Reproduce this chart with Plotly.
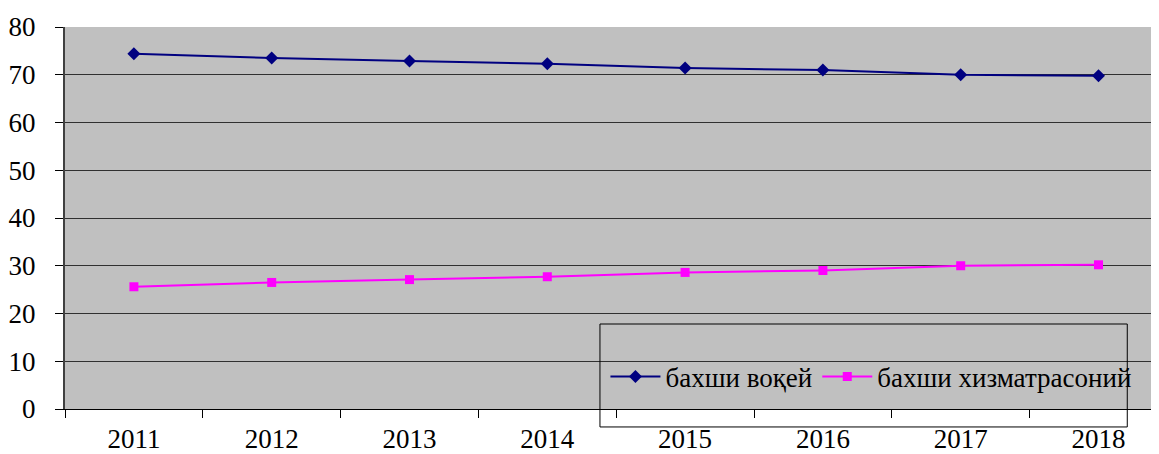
import plotly.graph_objects as go

years = ["2011", "2012", "2013", "2014", "2015", "2016", "2017", "2018"]
real_sector = [74.4, 73.5, 72.9, 72.3, 71.4, 71.0, 70.0, 69.8]
service_sector = [25.6, 26.5, 27.1, 27.7, 28.6, 29.0, 30.0, 30.2]
name_real = "бахши воқей"
name_service = "бахши хизматрасоний"
y_ticks = [0, 10, 20, 30, 40, 50, 60, 70, 80]

FONT = "'Times New Roman', 'Liberation Serif', serif"

fig = go.Figure()
fig.add_trace(go.Scatter(
    x=years, y=real_sector, name=name_real, mode="lines+markers",
    line=dict(color="#000080", width=2),
    marker=dict(symbol="diamond", size=10, color="#000080"),
))
fig.add_trace(go.Scatter(
    x=years, y=service_sector, name=name_service, mode="lines+markers",
    line=dict(color="#FF00FF", width=2),
    marker=dict(symbol="square", size=9, color="#FF00FF"),
))

fig.add_shape(type="rect", xref="paper", yref="paper",
              x0=0.489, x1=0.971, y0=-0.047, y1=0.2225,
              line=dict(color="#000000", width=1), fillcolor="rgba(0,0,0,0)",
              layer="above")

fig.update_layout(
    width=1151, height=446,
    margin=dict(l=57, r=0, t=19, b=45),
    paper_bgcolor="white",
    plot_bgcolor="#C0C0C0",
    font=dict(family=FONT, size=26, color="black"),
    showlegend=True,
    legend=dict(
        orientation="h", x=0.494, y=0.084, xanchor="left", yanchor="middle",
        bgcolor="rgba(0,0,0,0)", borderwidth=0,
        font=dict(family=FONT, size=27, color="black"),
        itemwidth=50, tracegroupgap=0,
    ),
    xaxis=dict(
        type="category", range=[-0.5, 7.439],
        showgrid=False, showline=True, linecolor="#000000", linewidth=1,
        ticks="outside", tickson="boundaries", ticklen=8, tickcolor="#000000",
        ticklabelstandoff=6,
        tickfont=dict(family=FONT, size=27),
    ),
    yaxis=dict(
        range=[0, 80], tickvals=y_ticks,
        showgrid=True, gridcolor="#303030", gridwidth=1,
        zeroline=False, showline=True, linecolor="#404040", linewidth=2,
        ticks="outside", ticklen=8, tickcolor="#000000",
        ticklabelstandoff=14,
        tickfont=dict(family=FONT, size=27),
    ),
)

fig.write_html("out.html")
